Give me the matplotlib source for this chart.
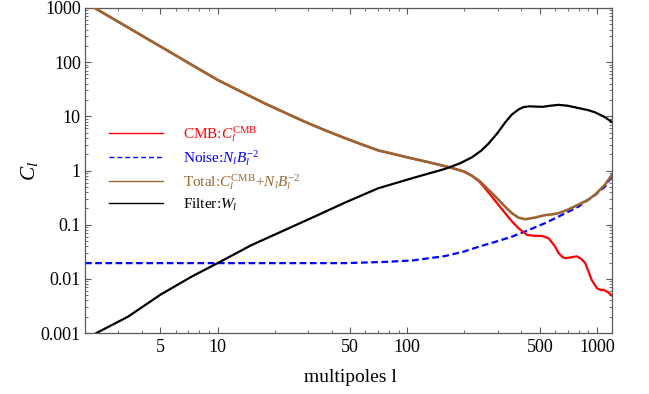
import matplotlib
matplotlib.use("Agg")
import matplotlib.pyplot as plt
from matplotlib.lines import Line2D
from matplotlib.ticker import FixedLocator, FixedFormatter, NullFormatter
import numpy as np

# ---------------- data ----------------
l_cmb = [2.0, 2.25, 2.6, 3.24, 4.2, 5.27, 7.2, 10, 13.5, 17.8, 22.5, 28.9, 37, 47, 58,
         70.3, 88, 105.7, 130, 158, 179, 200, 219, 240, 257, 279, 303, 328, 356, 386,
         427, 470, 513, 556, 600, 627, 660, 681, 730, 784, 830, 867, 937, 1000, 1050,
         1083, 1140, 1200]
c_cmb = [1273, 1000, 743, 474, 278, 175, 92, 47, 27.8, 17.2, 11.8, 7.9, 5.5, 3.95, 3.0,
         2.35, 1.95, 1.67, 1.42, 1.20, 1.07, 0.95, 0.80, 0.62, 0.47, 0.33, 0.23, 0.163,
         0.115, 0.086, 0.065, 0.062, 0.062, 0.056, 0.04, 0.030, 0.025, 0.024, 0.025,
         0.026, 0.023, 0.0195, 0.0096, 0.0067, 0.0062, 0.0063, 0.0057, 0.0049]

l_noise = [2.0, 10, 47, 75, 106, 158, 200, 237, 290, 356, 430, 534, 650, 800, 979,
           1100, 1200]
c_noise = [0.0195, 0.0195, 0.0195, 0.0205, 0.0218, 0.0263, 0.032, 0.039, 0.048, 0.060,
           0.078, 0.107, 0.15, 0.216, 0.355, 0.5, 0.78]

l_total = [2.0, 2.25, 2.6, 3.24, 4.2, 5.27, 7.2, 10, 13.5, 17.8, 22.5, 28.9, 37, 47, 58,
           70.3, 88, 105.7, 130, 158, 179, 200, 219, 240, 257, 280, 303, 330, 356, 385,
           419, 470, 534, 580, 627, 700, 800, 900, 979, 1100, 1200]
c_total = [1273, 1000, 743, 474, 278, 175, 92, 47, 27.8, 17.2, 11.8, 7.9, 5.5, 3.95, 3.0,
           2.35, 1.95, 1.67, 1.42, 1.20, 1.07, 0.95, 0.80, 0.645, 0.51, 0.38, 0.287, 0.21,
           0.163, 0.135, 0.126, 0.135, 0.150, 0.155, 0.163, 0.188, 0.235, 0.29, 0.36, 0.54,
           0.83]

l_filter = [2.0, 2.3, 3.37, 5, 7.3, 10, 15.1, 22.7, 34, 47, 70.3, 106, 158, 190, 219,
            245, 268, 300, 328, 355, 386, 410, 440, 480, 520, 560, 627, 700, 800, 900,
            979, 1100, 1200]
c_filter = [0.00075, 0.001, 0.0020, 0.0051, 0.011, 0.0195, 0.042, 0.080, 0.152, 0.256,
            0.47, 0.72, 1.07, 1.36, 1.75, 2.32, 3.13, 5.0, 7.7, 10.7, 13.4, 14.8, 15.3,
            15.1, 15.0, 15.6, 16.3, 15.7, 14.2, 13.0, 11.8, 9.7, 7.8]

x_major = [5, 10, 50, 100, 500, 1000]
x_major_labels = ["5", "10", "50", "100", "500", "1000"]
y_major = [0.001, 0.01, 0.1, 1, 10, 100, 1000]
y_major_labels = ["0.001", "0.01", "0.1", "1", "10", "100", "1000"]

labels = ["CMB:$C_l^{\\mathrm{CMB}}$",
          "Noise:$N_l B_l^{-2}$",
          "Total:$C_l^{\\mathrm{CMB}}\\!+\\!N_l B_l^{-2}$",
          "Filter:$W_l$"]

RED = (1, 0, 0)
BLUE = (0, 0, 1)
BROWN = (0.6, 0.4, 0.2)
BLACK = (0, 0, 0)

# ---------------- style ----------------
plt.rcParams['font.family'] = ['Liberation Serif', 'DejaVu Serif']
plt.rcParams['mathtext.fontset'] = 'custom'
plt.rcParams['mathtext.rm'] = 'Liberation Serif'
plt.rcParams['mathtext.it'] = 'Liberation Serif:italic'
plt.rcParams['mathtext.bf'] = 'Liberation Serif:bold'

fig = plt.figure(figsize=(6.49, 3.94), dpi=100)
ax = fig.add_axes([85 / 649, 1 - 333 / 394, 527 / 649, 325 / 394])

lw = 1.6
ax.plot(l_noise, c_noise, color=BLUE, lw=lw, ls=(0, (3.0, 1.6)), zorder=2)
ax.plot(l_cmb, c_cmb, color=RED, lw=lw, zorder=3)
ax.plot(l_total, c_total, color=BROWN, lw=lw + 0.3, zorder=4)
ax.plot(l_filter, c_filter, color=BLACK, lw=lw, zorder=5)

ax.set_xscale('log')
ax.set_yscale('log')
ax.set_xlim(2.0, 1200)
ax.set_ylim(0.001, 1000)

# ticks
ax.xaxis.set_major_locator(FixedLocator(x_major))
ax.xaxis.set_major_formatter(FixedFormatter(x_major_labels))
x_minor = [v for d in [1, 10, 100, 1000] for v in np.arange(1, 10) * d
           if 2 <= v <= 1200 and v not in x_major]
ax.xaxis.set_minor_locator(FixedLocator(x_minor))
ax.xaxis.set_minor_formatter(NullFormatter())
ax.yaxis.set_major_locator(FixedLocator(y_major))
ax.yaxis.set_major_formatter(FixedFormatter(y_major_labels))
y_minor = [m * 10.0 ** e for e in range(-3, 3) for m in range(2, 10)]
ax.yaxis.set_minor_locator(FixedLocator(y_minor))
ax.yaxis.set_minor_formatter(NullFormatter())

spine_col = (0.35, 0.35, 0.35)
for s in ax.spines.values():
    s.set_color(spine_col)
    s.set_linewidth(0.9)
ax.tick_params(which='both', direction='in', top=True, right=True, color=spine_col,
               labelsize=13, labelcolor='black')
ax.tick_params(which='major', length=4, width=0.8)
ax.tick_params(which='minor', length=2, width=0.6)
ax.tick_params(axis='x', which='major', pad=4)
ax.tick_params(axis='y', which='major', pad=3)

ax.set_xlabel("multipoles l", fontsize=14)
ax.xaxis.label.set_va('center')
ax.xaxis.set_label_coords(0.503, -0.138)
ax.set_ylabel("$C_l$", fontsize=15.5)
ax.yaxis.label.set_va('center')
ax.yaxis.set_label_coords(-0.105, 0.5)

# legend
handles = [Line2D([], [], color=RED, lw=1.0),
           Line2D([], [], color=BLUE, lw=1.0, ls=(0, (3.5, 2.2))),
           Line2D([], [], color=BROWN, lw=1.0),
           Line2D([], [], color=BLACK, lw=1.0)]
leg = ax.legend(handles, labels, loc='upper left', bbox_to_anchor=(0.046, 0.643),
                frameon=False, fontsize=11, handlelength=3.55, handletextpad=1.3,
                labelspacing=0.28, borderpad=0.0, borderaxespad=0.0)
for t, c in zip(leg.get_texts(), [RED, BLUE, BROWN, BLACK]):
    t.set_color(c)

fig.savefig("out.png", dpi=100)
